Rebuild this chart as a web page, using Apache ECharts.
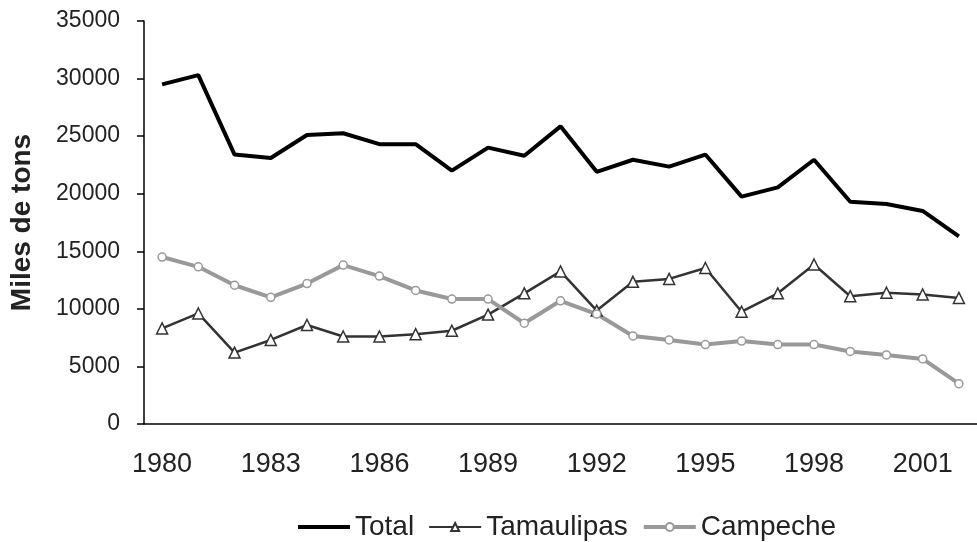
<!DOCTYPE html>
<html>
<head>
<meta charset="utf-8">
<script src="https://cdn.jsdelivr.net/npm/echarts@6/dist/echarts.min.js"></script>
<style>html,body{margin:0;padding:0;background:#fff}#c{width:977px;height:542px}</style>
</head>
<body>
<div id="c"></div>
<script>
const years = ['1980','1981','1982','1983','1984','1985','1986','1987','1988','1989','1990','1991','1992','1993','1994','1995','1996','1997','1998','1999','2000','2001','2002'];
const total = [29500,30300,23400,23100,25100,25250,24300,24300,22000,24000,23300,25850,21900,22950,22350,23400,19750,20550,22950,19300,19100,18500,16300];
const tamaulipas = [8300,9600,6200,7300,8600,7600,7600,7800,8100,9500,11350,13250,9850,12350,12600,13550,9750,11350,13850,11100,11400,11250,10950];
const campeche = [14500,13650,12050,11000,12200,13800,12850,11600,10850,10850,8750,10700,9550,7650,7300,6900,7200,6900,6900,6300,6000,5650,3500];
const yTicks = {min:0, max:35000, interval:5000};
const yName = 'Miles de tons';
const seriesNames = ['Total','Tamaulipas','Campeche'];

const chart = echarts.init(document.getElementById('c'), null, {renderer:'canvas'});
const txt = '#222';
const ff = 'Liberation Sans, Arial';
chart.setOption({
  animation:false,
  backgroundColor:'#fff',
  grid:{left:142, top:21, bottom:118, right:-11, containLabel:false},
  legend:{
    bottom:-4, left:291,
    itemWidth:52, itemHeight:10, itemGap:14,
    textStyle:{fontFamily:ff, fontSize:28, color:txt},
    data:[
      {name:seriesNames[0], itemStyle:{opacity:0}, lineStyle:{width:4}},
      {name:seriesNames[1], lineStyle:{width:2}},
      {name:seriesNames[2], lineStyle:{width:4}}
    ]
  },
  xAxis:{
    type:'category', data:years, boundaryGap:true,
    axisLine:{lineStyle:{color:'#000', width:1.5}},
    axisTick:{interval:0, length:8, lineStyle:{color:'#000', width:1.5}},
    axisLabel:{interval:2, margin:27, fontFamily:ff, fontSize:27, color:txt},
    splitLine:{show:false}
  },
  yAxis:{
    type:'value', min:yTicks.min, max:yTicks.max, interval:yTicks.interval,
    name:yName, nameLocation:'middle', nameGap:108, nameRotate:90,
    nameTextStyle:{fontFamily:ff, fontSize:28, fontWeight:'bold', color:txt},
    axisLine:{show:true, lineStyle:{color:'#000', width:1.5}},
    axisTick:{show:true, length:7, lineStyle:{color:'#000', width:1.5}},
    axisLabel:{margin:24, fontFamily:ff, fontSize:23, color:txt, formatter:function(v){return String(v);}},
    splitLine:{show:false}
  },
  series:[
    {name:seriesNames[0], type:'line', data:total, showSymbol:false, symbol:'circle',
     lineStyle:{color:'#000', width:4}, itemStyle:{color:'#000'}},
    {name:seriesNames[1], type:'line', data:tamaulipas, symbol:'triangle', symbolSize:11,
     lineStyle:{color:'#333', width:2.5},
     itemStyle:{color:'#fff', borderColor:'#333', borderWidth:1.5}},
    {name:seriesNames[2], type:'line', data:campeche, symbol:'circle', symbolSize:8,
     lineStyle:{color:'#999', width:4},
     itemStyle:{color:'#fff', borderColor:'#999', borderWidth:1.5}}
  ]
});
</script>
</body>
</html>
